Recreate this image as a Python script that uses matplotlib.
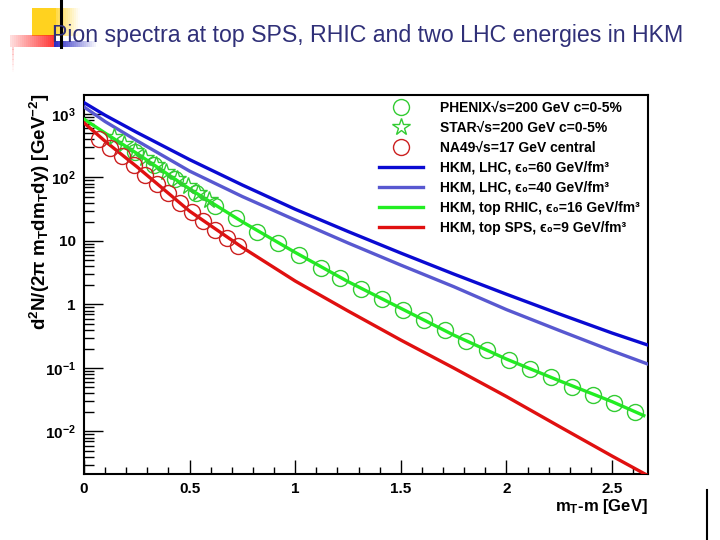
import numpy as np
import matplotlib
matplotlib.use("Agg")
import matplotlib.pyplot as plt
from matplotlib.lines import Line2D
from matplotlib.patches import Rectangle
from matplotlib.ticker import LogLocator, NullFormatter, MultipleLocator

# ---------------- data ----------------
x_lhc60 = [0.0, 0.1, 0.25, 0.5, 0.75, 1.0, 1.25, 1.5, 1.75, 2.0, 2.25, 2.5, 2.67]
y_lhc60 = [1510, 955, 513, 191, 76, 31.6, 14.1, 6.45, 3.02, 1.45, 0.71, 0.355, 0.229]

x_lhc40 = [0.0, 0.1, 0.25, 0.5, 0.75, 1.0, 1.25, 1.5, 1.75, 2.0, 2.25, 2.5, 2.67]
y_lhc40 = [1290, 760, 380, 126, 50, 21.4, 9.3, 4.17, 1.91, 0.83, 0.39, 0.186, 0.115]

x_rhic = [0.0, 0.1, 0.25, 0.5, 0.75, 1.0, 1.25, 1.5, 1.75, 2.0, 2.25, 2.5, 2.65]
y_rhic = [830, 500, 240, 66, 20, 6.6, 2.29, 0.87, 0.33, 0.138, 0.063, 0.0295, 0.0178]

x_sps = [0.0, 0.1, 0.25, 0.5, 0.75, 1.0, 1.25, 1.5, 1.75, 2.0, 2.25, 2.5, 2.66]
y_sps = [725, 372, 148, 29.5, 7.9, 2.34, 0.79, 0.275, 0.100, 0.0355, 0.0120, 0.0041, 0.0021]

x_phenix = [0.24, 0.33, 0.43, 0.53, 0.62, 0.72, 0.82, 0.92, 1.02, 1.12, 1.21, 1.31, 1.41,
            1.51, 1.61, 1.71, 1.81, 1.91, 2.01, 2.11, 2.21, 2.31, 2.41, 2.51, 2.61]
y_phenix = [251, 158, 95, 57.5, 35.5, 22.9, 14.1, 9.3, 6.0, 3.8, 2.63, 1.78, 1.23,
            0.83, 0.56, 0.39, 0.27, 0.19, 0.135, 0.098, 0.071, 0.051, 0.038, 0.028, 0.0204]

x_star = [0.14, 0.19, 0.24, 0.29, 0.34, 0.39, 0.44, 0.49, 0.54, 0.59]
y_star = [427, 339, 263, 204, 158, 123, 95, 74, 57.5, 44.7]

x_na49 = [0.07, 0.125, 0.18, 0.235, 0.29, 0.345, 0.40, 0.455, 0.51, 0.565, 0.62, 0.675, 0.73]
y_na49 = [398, 288, 214, 155, 110, 79, 56, 40, 28.2, 20.9, 15.1, 11.2, 8.3]

ytick_vals = [1e-2, 1e-1, 1, 10, 100, 1000]
ytick_labels = [r"$10^{-2}$", r"$10^{-1}$", "1", "10", r"$10^{2}$", r"$10^{3}$"]
xtick_vals = [0, 0.5, 1, 1.5, 2, 2.5]
xtick_labels = ["0", "0.5", "1", "1.5", "2", "2.5"]

labels = [
    "PHENIX\u221As=200 GeV c=0-5%",
    "STAR\u221As=200 GeV c=0-5%",
    "NA49\u221As=17 GeV central",
    "HKM, LHC, \u03f5\u2080=60 GeV/fm\u00b3",
    "HKM, LHC, \u03f5\u2080=40 GeV/fm\u00b3",
    "HKM, top RHIC, \u03f5\u2080=16 GeV/fm\u00b3",
    "HKM, top SPS, \u03f5\u2080=9 GeV/fm\u00b3",
]

# ---------------- style ----------------
plt.rcParams['font.family'] = ['Liberation Sans', 'DejaVu Sans']
plt.rcParams['mathtext.fontset'] = 'custom'
plt.rcParams['mathtext.rm'] = 'Liberation Sans:bold'
plt.rcParams['mathtext.it'] = 'Liberation Sans:bold'
plt.rcParams['mathtext.bf'] = 'Liberation Sans:bold'
plt.rcParams['mathtext.sf'] = 'Liberation Sans:bold'

W, H = 720, 540
fig = plt.figure(figsize=(7.2, 5.4), dpi=100)
fig.patch.set_facecolor('white')

def px_rect(x0, y0, w, h, color, alpha=1.0):
    fig.patches.append(Rectangle((x0 / W, 1 - (y0 + h) / H), w / W, h / H,
                                 transform=fig.transFigure, facecolor=color,
                                 edgecolor='none', alpha=alpha, zorder=0))

# slide decorations
px_rect(32, 8, 24, 28, '#ffd21f')
for i in range(12):
    px_rect(56 + i * 2, 8, 2, 28, '#ffd21f', alpha=max(0.0, 0.8 - i * 0.07))
for i in range(22):
    px_rect(10 + i * 2, 35, 2, 12, '#ff2020', alpha=0.15 + i * 0.035)
for i in range(22):
    px_rect(54 + i * 2, 41, 2, 6, '#2020c0', alpha=max(0.0, 0.95 - i * 0.045))
for i in range(10):
    px_rect(12, 47 + i * 2.5, 2, 2.5, '#ff8080', alpha=max(0.0, 0.35 - i * 0.035))
fig.add_artist(Line2D([61 / W, 61 / W], [1.0, 1 - 47 / H], transform=fig.transFigure,
                      color='black', lw=2.2, zorder=5))

fig.text(52 / W, 1 - 42 / H, "Pion spectra at top SPS, RHIC and two LHC energies in HKM",
         fontsize=16.7, color='#303078', ha='left', va='baseline', zorder=6)

ax = fig.add_axes([84 / W, 1 - 474 / H, (648 - 84) / W, (474 - 95) / H])
ax.set_yscale('log')
ax.set_xlim(0, 2.67)
ax.set_ylim(0.00214, 1990)

c_blue = '#0a0ad2'
c_lblue = '#5858d0'
c_green = '#22ee22'
c_red = '#e01010'
c_gmark = '#33cc33'
c_rmark = '#cc2020'

l1, = ax.plot(x_lhc60, y_lhc60, color=c_blue, lw=2.4, zorder=3)
l2, = ax.plot(x_lhc40, y_lhc40, color=c_lblue, lw=2.4, zorder=3)
l3, = ax.plot(x_rhic, y_rhic, color=c_green, lw=2.4, zorder=3)
l4, = ax.plot(x_sps, y_sps, color=c_red, lw=2.4, zorder=3)

m1, = ax.plot(x_phenix, y_phenix, ls='none', marker='o', ms=11.5, mfc='none',
              mec=c_gmark, mew=1.0, zorder=4)
m2, = ax.plot(x_star, y_star, ls='none', marker='*', ms=13, mfc='none',
              mec=c_gmark, mew=1.0, zorder=4)
m3, = ax.plot(x_na49, y_na49, ls='none', marker='o', ms=11.5, mfc='none',
              mec=c_rmark, mew=1.0, zorder=4)

ax.set_xticks(xtick_vals)
ax.set_xticklabels(xtick_labels, fontsize=11, fontweight='bold')
ax.xaxis.set_minor_locator(MultipleLocator(0.1))
ax.set_yticks(ytick_vals)
ax.set_yticklabels(ytick_labels, fontsize=11, fontweight='bold')
ax.yaxis.set_minor_locator(LogLocator(base=10, subs=np.arange(2, 10), numticks=20))
ax.yaxis.set_minor_formatter(NullFormatter())

ax.tick_params(axis='both', which='both', direction='in', top=False, right=False)
ax.tick_params(axis='x', which='major', length=10, width=1, pad=6)
ax.tick_params(axis='x', which='minor', length=5, width=1)
ax.tick_params(axis='y', which='major', length=14, width=1, pad=6)
ax.tick_params(axis='y', which='minor', length=7, width=1)
for s in ax.spines.values():
    s.set_linewidth(1.5)

fig.text(40 / W, 1 - 94 / H, r"d$^2$N/(2$\pi$ m$_T$dm$_T$dy) [GeV$^{-2}$]",
         rotation=90, ha='center', va='top', fontsize=13.5, fontweight='bold')
fig.text(648 / W, 1 - 506 / H, r"m$_T$-m [GeV]", ha='right', va='center',
         fontsize=12, fontweight='bold')

leg = ax.legend([m1, m2, m3, l1, l2, l3, l4], labels, loc='upper left',
                bbox_to_anchor=((379 - 84) / (648 - 84), 1 - (101 - 95) / (474 - 95)),
                frameon=False, prop={'weight': 'bold', 'size': 10},
                handlelength=3.2, handletextpad=1.2, labelspacing=0.43,
                borderaxespad=0, borderpad=0, numpoints=1)

fig.add_artist(Line2D([707 / W, 707 / W], [0.0, 1 - 490 / H], transform=fig.transFigure,
                      color='black', lw=1.5, zorder=5))

fig.savefig("out.png", dpi=100)
